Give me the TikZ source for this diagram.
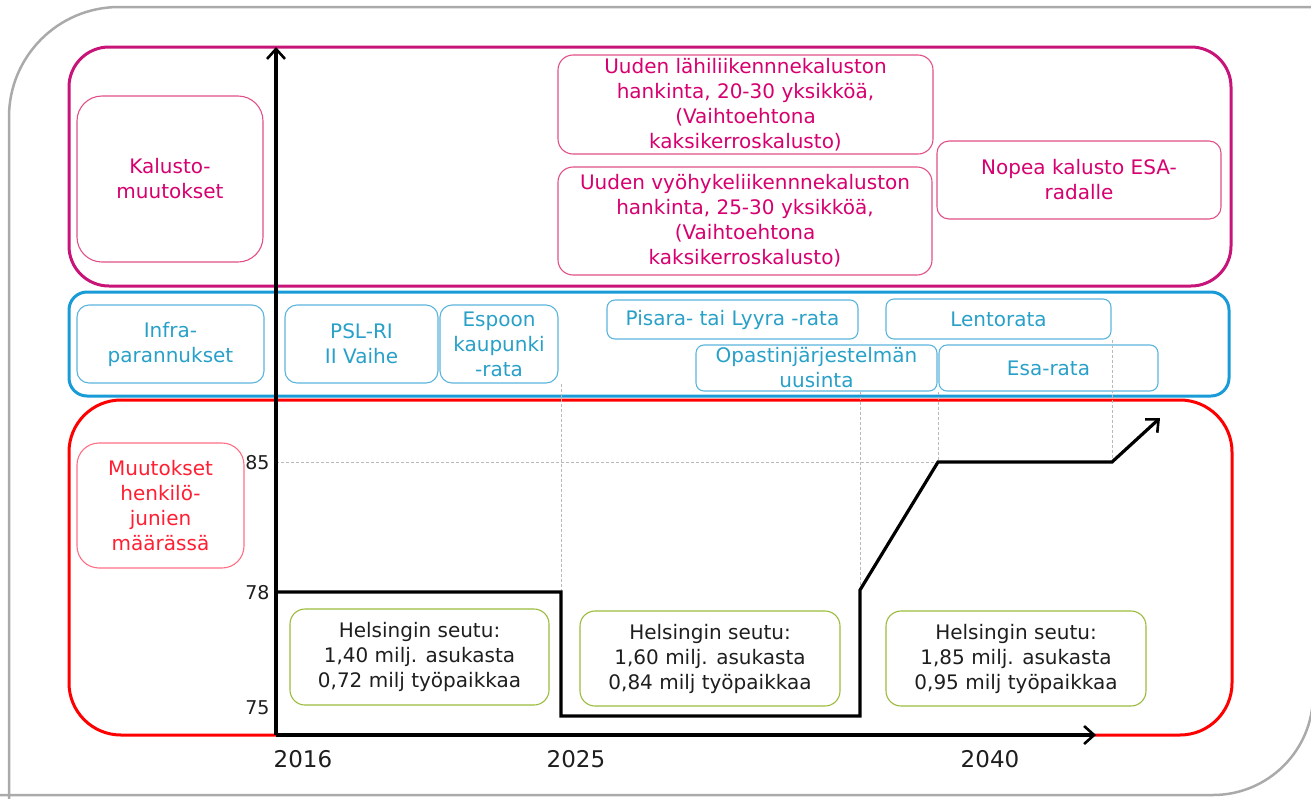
\documentclass[tikz,border=0pt]{standalone}
\usepackage{fontspec}
\setmainfont{DejaVu Sans}
\usetikzlibrary{arrows.meta}
\definecolor{frameg}{RGB}{170,170,170}
\definecolor{magouter}{RGB}{200,20,120}
\definecolor{magtext}{RGB}{214,0,110}
\definecolor{maginner}{RGB}{225,80,135}
\definecolor{blueouter}{RGB}{25,155,215}
\definecolor{blueinner}{RGB}{90,180,220}
\definecolor{bluetext}{RGB}{40,160,200}
\definecolor{redouter}{RGB}{255,0,0}
\definecolor{redtext}{RGB}{255,30,50}
\definecolor{redinner}{RGB}{255,110,130}
\definecolor{greenb}{RGB}{155,187,60}
\definecolor{dotg}{RGB}{185,185,185}
\definecolor{darktext}{RGB}{30,30,30}
\begin{document}
\begin{tikzpicture}[x=1pt,y=-1pt,
  group/.style={draw, line width=3pt, inner sep=0pt},
  bx/.style={draw, line width=1.1pt, inner sep=0pt, align=center,
    font=\fontsize{20}{25}\selectfont},
  magbox/.style={bx, draw=maginner, text=magtext},
  bluebox/.style={bx, draw=blueinner, text=bluetext},
  greenbox/.style={bx, draw=greenb, text=darktext},
  tip/.style={-{Straight Barb[length=10pt,width=18pt,line width=2.6pt]}},
  axis/.style={line width=3.4pt, black, tip},
  guide/.style={dotg, line width=0.8pt, densely dashed},
  tick/.style={font=\fontsize{19}{22}\selectfont, text=darktext},
  year/.style={font=\fontsize{23}{26}\selectfont, text=darktext}
]
\useasboundingbox (0,0) rectangle (1311,798);

% outer frame
\draw[frameg, line width=2.5pt, rounded corners=110] (9,900) -- (9,7) -- (1500,7);
\draw[frameg, line width=2.5pt, rounded corners=100] (-100,795) -- (1313,795) -- (1313,-100);

% group boxes
\node[group, draw=magouter, rounded corners=40, minimum width=1162pt, minimum height=239pt] (mag) at (650,166.5) {};
\node[group, draw=blueouter, rounded corners=18, minimum width=1160pt, minimum height=104pt] (blue) at (649,344) {};
\node[group, draw=redouter, rounded corners=52, minimum width=1163pt, minimum height=335pt] (red) at (650.5,567.5) {};

% rolling stock
\node[magbox, rounded corners=25, minimum width=186pt, minimum height=166pt] (kal) at (170,179) {Kalusto-\\muutokset};
\node[magbox, rounded corners=15, minimum width=375pt, minimum height=99pt] (lahi) at (745.5,104.5) {Uuden lähiliikennnekaluston\\hankinta, 20-30 yksikköä,\\(Vaihtoehtona\\kaksikerroskalusto)};
\node[magbox, rounded corners=15, minimum width=374pt, minimum height=108pt] (vyo) at (745,221) {Uuden vyöhykeliikennnekaluston\\hankinta, 25-30 yksikköä,\\(Vaihtoehtona\\kaksikerroskalusto)};
\node[magbox, rounded corners=12, minimum width=284pt, minimum height=78pt] (nopea) at (1079,180) {Nopea kalusto ESA-\\radalle};

% infrastructure
\node[bluebox, rounded corners=12, minimum width=187pt, minimum height=78pt] (infra) at (170.5,344) {Infra-\\parannukset};
\node[bluebox, rounded corners=12, minimum width=153pt, minimum height=78pt] (psl) at (361.5,344) {PSL-RI\\II Vaihe};
\node[bluebox, rounded corners=12, minimum width=118pt, minimum height=78pt] (espoo) at (499,344) {Espoon\\kaupunki\\-rata};
\node[bluebox, rounded corners=8, minimum width=251pt, minimum height=39pt] (pisara) at (732.5,319.5) {Pisara- tai Lyyra -rata};
\node[bluebox, rounded corners=8, minimum width=225pt, minimum height=40pt] (lento) at (998.5,319) {Lentorata};
\node[bluebox, rounded corners=8, minimum width=241pt, minimum height=46pt] (opas) at (816.5,368) {Opastinjärjestelmän\\uusinta};
\node[bluebox, rounded corners=8, minimum width=219pt, minimum height=46pt] (esa) at (1048.5,368) {Esa-rata};

% train changes
\node[bx, draw=redinner, text=redtext, rounded corners=22, minimum width=167pt, minimum height=125pt] (muut) at (160.5,505.5) {Muutokset\\henkilö-\\junien\\määrässä};

% guide lines
\coordinate (o) at (276,735);
\coordinate (l85) at (276,462);
\coordinate (p1) at (276,592);
\coordinate (p2) at (561,592);
\coordinate (p3) at (561,716);
\coordinate (p4) at (860,716);
\coordinate (p5) at (860,590);
\coordinate (p6) at (938,462);
\coordinate (p7) at (1112,462);
\coordinate (p8) at (1160,418);
\draw[guide] (l85) -- (p6);
\draw[guide] (espoo.south -| p2) -- (p2);
\draw[guide] (opas.south -| p5) -- (p5);
\draw[guide] (opas.south -| p6) -- (p6);
\draw[guide] (lento.south -| p7) -- (p7);

% axes
\coordinate (ytop) at (276,47);
\coordinate (xend) at (1096,735);
\draw[axis] (o) -- (ytop);
\draw[axis] (o) -- (xend);

% step line
\draw[line width=3.2pt, line join=miter, tip]
  (p1) -- (p2) -- (p3) -- (p4) -- (p5) -- (p6) -- (p7) -- (p8);

% tick labels
\node[tick, anchor=east] (t85) at (273,463) {85};
\node[tick, anchor=east] (t78) at (273,593) {78};
\node[tick, anchor=east] (t75) at (273,708) {75};
\node[year] (y2016) at (303,759) {2016};
\node[year] (y2025) at (576,759) {2025};
\node[year] (y2040) at (990,759) {2040};

% population boxes
\node[greenbox, rounded corners=15, minimum width=259pt, minimum height=96pt] (g1) at (419.5,657) {Helsingin seutu:\\1,40 milj. asukasta\\0,72 milj työpaikkaa};
\node[greenbox, rounded corners=15, minimum width=260pt, minimum height=95pt] (g2) at (710,658.5) {Helsingin seutu:\\1,60 milj. asukasta\\0,84 milj työpaikkaa};
\node[greenbox, rounded corners=15, minimum width=260pt, minimum height=95pt] (g3) at (1016,658.5) {Helsingin seutu:\\1,85 milj. asukasta\\0,95 milj työpaikkaa};
\end{tikzpicture}
\end{document}
